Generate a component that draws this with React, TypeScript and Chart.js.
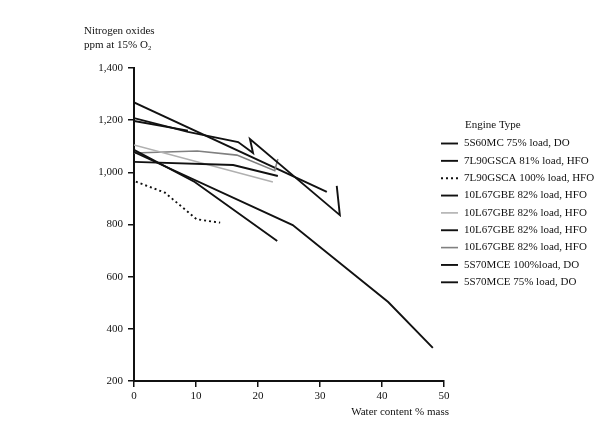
import React, { useEffect, useRef } from 'react';
import { Chart, registerables } from 'chart.js';

Chart.register(...registerables);

const FONT = "'Liberation Serif', 'Times New Roman', serif";

const xTicks = [0, 10, 20, 30, 40, 50];
const yTicks = [200, 400, 600, 800, 1000, 1200, 1400];

const seriesLabels = [
  '5S60MC 75% load, DO',
  '7L90GSCA 81% load, HFO',
  '7L90GSCA 100% load, HFO',
  '10L67GBE 82% load, HFO',
  '10L67GBE 82% load, HFO',
  '10L67GBE 82% load, HFO',
  '10L67GBE 82% load, HFO',
  '5S70MCE 100%load, DO',
  '5S70MCE 75% load, DO',
];

// 5S60MC 75% load, DO
const s1X = [0, 25.6, 41, 48.2];
const s1Y = [1078, 798, 503, 327];
// 7L90GSCA 81% load, HFO
const s2X = [0, 9.8, 23.1];
const s2Y = [1086, 963, 737];
// 7L90GSCA 100% load, HFO (dotted)
const s3X = [0.3, 5, 10.1, 13.9];
const s3Y = [964, 922, 820, 807];
// 10L67GBE black
const s4X = [0, 16, 23.2];
const s4Y = [1040, 1028, 986];
// 10L67GBE light gray
const s5X = [0, 22.4];
const s5Y = [1105, 963];
// 10L67GBE black (zigzag)
const s6X = [0, 8.7, 16.8, 19.2, 18.7, 33.2, 32.7];
const s6Y = [1208, 1155, 1116, 1074, 1128, 836, 948];
// 10L67GBE gray
const s7X = [0, 10.2, 16.6, 22.7, 23.2];
const s7Y = [1074, 1082, 1066, 1006, 1051];
// 5S70MCE 100%load, DO
const s8X = [0, 31.1];
const s8Y = [1268, 925];
// 5S70MCE 75% load, DO
const s9X = [0, 8.7];
const s9Y = [1197, 1160];

const seriesX = [s1X, s2X, s3X, s4X, s5X, s6X, s7X, s8X, s9X];
const seriesY = [s1Y, s2Y, s3Y, s4Y, s5Y, s6Y, s7Y, s8Y, s9Y];
const seriesColors = ['#111', '#111', '#111', '#111', '#b0b0b0', '#111', '#808080', '#111', '#111'];
const seriesWidths = [1.9, 1.9, 1.9, 1.9, 1.6, 1.9, 1.6, 1.9, 1.9];
const seriesDash: number[][] = [[], [], [2, 3], [], [], [], [], [], []];

const textPlugin = {
  id: 'customText',
  afterDraw(chart: any) {
    const ctx = chart.ctx;
    ctx.save();
    ctx.fillStyle = '#111';
    ctx.font = `11px ${FONT}`;
    ctx.textBaseline = 'middle';
    ctx.textAlign = 'left';
    ctx.fillText('Nitrogen oxides', 84, 31);
    ctx.fillText('ppm at 15% O\u2082', 84, 45);
    ctx.textAlign = 'right';
    ctx.fillText('Water content % mass', 449, 412);
    // legend
    ctx.textAlign = 'left';
    ctx.fillText('Engine Type', 465, 125);
    const y0 = 143.5;
    const step = 17.35;
    chart.data.datasets.forEach((ds: any, i: number) => {
      const y = y0 + i * step;
      ctx.beginPath();
      ctx.strokeStyle = ds.borderColor;
      ctx.lineWidth = ds.borderWidth;
      ctx.setLineDash(ds.borderDash || []);
      ctx.moveTo(441, y);
      ctx.lineTo(458, y);
      ctx.stroke();
      ctx.setLineDash([]);
      ctx.fillText(ds.label, 464, y);
    });
    ctx.restore();
  },
};

export default function App() {
  const ref = useRef<HTMLCanvasElement>(null);
  useEffect(() => {
    if (!ref.current) return;
    const datasets = seriesLabels.map((label, i) => ({
      label,
      data: seriesX[i].map((x, j) => ({ x, y: seriesY[i][j] })),
      borderColor: seriesColors[i],
      backgroundColor: seriesColors[i],
      borderWidth: seriesWidths[i],
      borderDash: seriesDash[i],
      pointRadius: 0,
      tension: 0,
      fill: false,
    }));
    const chart = new Chart(ref.current, {
      type: 'line',
      data: { datasets },
      options: {
        animation: false,
        responsive: false,
        devicePixelRatio: 1,
        layout: { padding: { left: 0, right: 156, top: 68, bottom: 0 } },
        plugins: { legend: { display: false }, tooltip: { enabled: false } },
        scales: {
          x: {
            type: 'linear',
            min: 0,
            max: 50,
            afterFit: (s: any) => { s.height = 60; },
            afterBuildTicks: (s: any) => { s.ticks = xTicks.map((v) => ({ value: v })); },
            grid: { drawOnChartArea: false, drawTicks: true, tickLength: 6, color: '#111', lineWidth: 1.5 },
            border: { display: true, color: '#111', width: 2 },
            ticks: { color: '#111', font: { family: FONT, size: 11 }, padding: 3, maxRotation: 0 },
          },
          y: {
            type: 'linear',
            min: 200,
            max: 1400,
            afterFit: (s: any) => { s.width = 134; },
            afterBuildTicks: (s: any) => { s.ticks = yTicks.map((v) => ({ value: v })); },
            grid: { drawOnChartArea: false, drawTicks: true, tickLength: 6, color: '#111', lineWidth: 1.5 },
            border: { display: true, color: '#111', width: 2 },
            ticks: {
              color: '#111',
              font: { family: FONT, size: 11 },
              padding: 5,
              callback: (v: any) => Number(v).toLocaleString('en-US'),
            },
          },
        },
      },
      plugins: [textPlugin],
    });
    return () => chart.destroy();
  }, []);
  return (
    <div style={{ position: 'fixed', left: 0, top: 0, width: 600, height: 441, background: '#fff' }}>
      <canvas ref={ref} width={600} height={441} style={{ width: 600, height: 441 }} />
    </div>
  );
}
